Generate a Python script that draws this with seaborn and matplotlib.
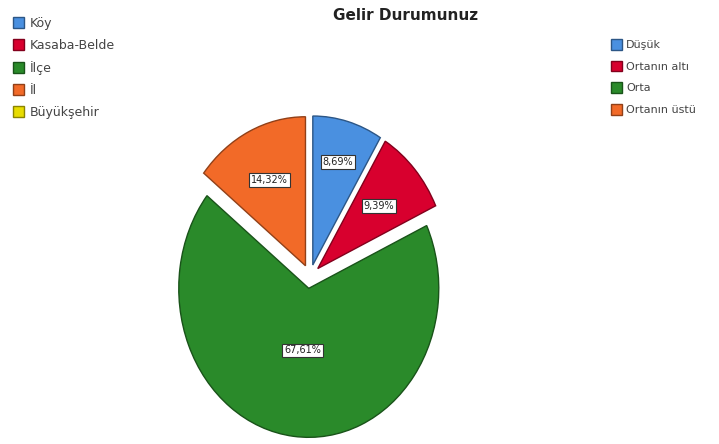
import numpy as np
import matplotlib
matplotlib.use("Agg")
import matplotlib.pyplot as plt
import seaborn as sns
from matplotlib.patches import Patch
from matplotlib.colors import to_rgb

sns.set_theme(style="white")
plt.rcParams['font.family'] = ['DejaVu Sans']

# data
gelir_labels = ["Düşük", "Ortanın altı", "Orta", "Ortanın üstü"]
gelir_pct = [8.69, 9.39, 67.61, 14.32]
yer_labels = ["Köy", "Kasaba-Belde", "İlçe", "İl", "Büyükşehir"]

colors = ["#4a90e0", "#d8002e", "#2a8a2a", "#f26a28", "#e8dc00"]
label_dist = [0.72, 0.63, 0.42, 0.64]  # label radius per slice

W, H = 719, 444
fig = plt.figure(figsize=(W / 100, H / 100), dpi=100)

# pie axes: unit radius = 130px wide, 149px high, centre at (310, 276)
rx, ry, cx, cy = 130, 149, 310, 276.5
xl, yl = 1.3, 1.12
ax = fig.add_axes([(cx - xl * rx) / W, (H - cy - yl * ry) / H,
                   2 * xl * rx / W, 2 * yl * ry / H])

def darker(c, f=0.6):
    return tuple(v * f for v in to_rgb(c))

wedges, _ = ax.pie(gelir_pct, colors=colors[:4], startangle=90, counterclock=False,
                   explode=[0.08] * 4, normalize=True,
                   wedgeprops=dict(linewidth=1.0))
for w, c in zip(wedges, colors):
    w.set_edgecolor(darker(c))

for w, v, d in zip(wedges, gelir_pct, label_dist):
    ang = np.deg2rad((w.theta1 + w.theta2) / 2)
    x0, y0 = w.center
    ax.text(x0 + d * np.cos(ang), y0 + d * np.sin(ang),
            f"{v:.2f}%".replace(".", ","), ha="center", va="center",
            fontsize=7, color="#222222",
            bbox=dict(boxstyle="square,pad=0.2", fc="white", ec="#333333", lw=0.8))

ax.set_aspect("auto")
ax.set_xlim(-xl, xl)
ax.set_ylim(-yl, yl)
ax.axis("off")

fig.text(406 / W, 1 - 16 / H, "Gelir Durumunuz", ha="center", va="center",
         fontsize=11, fontweight="bold", color="#222222")

# left legend
h_left = [Patch(facecolor=c, edgecolor=darker(c)) for c in colors]
leg1 = fig.legend(h_left, yer_labels, loc="upper left", bbox_to_anchor=(13 / W, 1 - 17 / H),
                  frameon=False, fontsize=9, handlelength=0.85, handleheight=1.0,
                  handletextpad=0.5, labelspacing=0.72, borderaxespad=0.0, borderpad=0.0)
for t in leg1.get_texts():
    t.set_color("#444444")

# right legend
h_right = [Patch(facecolor=c, edgecolor=darker(c)) for c in colors[:4]]
leg2 = fig.legend(h_right, gelir_labels, loc="upper left", bbox_to_anchor=(611 / W, 1 - 39 / H),
                  frameon=False, fontsize=8, handlelength=0.95, handleheight=1.1,
                  handletextpad=0.4, labelspacing=0.95, borderaxespad=0.0, borderpad=0.0)
for t in leg2.get_texts():
    t.set_color("#444444")

fig.savefig("out.png", dpi=100, facecolor="white")
